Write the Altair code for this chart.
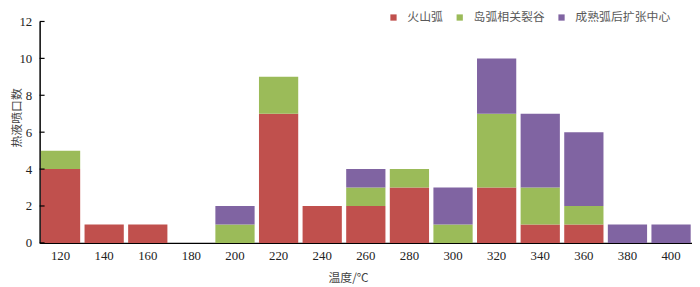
import altair as alt
import pandas as pd

temps = ["120", "140", "160", "180", "200", "220", "240", "260", "280", "300",
         "320", "340", "360", "380", "400"]
types = ["火山弧", "岛弧相关裂谷", "成熟弧后扩张中心"]
volcanic_arc = [4, 1, 1, 0, 0, 7, 2, 2, 3, 0, 3, 1, 1, 0, 0]
arc_rift = [1, 0, 0, 0, 1, 2, 0, 1, 1, 1, 4, 2, 1, 0, 0]
backarc = [0, 0, 0, 0, 1, 0, 0, 1, 0, 2, 3, 4, 4, 1, 1]
colors = ["#C0504D", "#9BBB59", "#8064A2"]
y_ticks = [0, 2, 4, 6, 8, 10, 12]

rows = []
for i, t in enumerate(temps):
    for k, series in enumerate([volcanic_arc, arc_rift, backarc]):
        rows.append({"温度": t, "类型": types[k], "值": series[i], "idx": k})
df = pd.DataFrame(rows)
ticks_df = pd.DataFrame({"t": y_ticks})

serif = "Liberation Serif, Noto Sans CJK SC"

y_axis = alt.Axis(title="热液喷口数", values=y_ticks, tickSize=0, labelPadding=8,
                  labelOverlap=False, labelFlush=False, grid=False,
                  labelFont=serif, labelFontSize=13,
                  labelColor="#222222", domainColor="#000000", domainWidth=1.5,
                  titleFont="Noto Sans CJK SC", titleFontSize=12,
                  titleFontWeight="normal", titleColor="#444444",
                  titleX=-23, titleY=97, titleAlign="center",
                  titleBaseline="middle")

bars = alt.Chart(df).mark_bar().encode(
    x=alt.X("温度:O", sort=temps,
            scale=alt.Scale(paddingInner=0.1, paddingOuter=0.03),
            axis=alt.Axis(title="温度/℃", labelAngle=0, tickSize=0, labelPadding=7,
                          labelFont=serif, labelFontSize=13, labelColor="#222222",
                          domainColor="#000000", domainWidth=1.5,
                          titleFont="Noto Sans CJK SC", titleFontSize=12,
                          titleFontWeight="normal", titleColor="#444444",
                          titleX=312, titleY=35, titleBaseline="middle")),
    y=alt.Y("sum(值):Q", scale=alt.Scale(domain=[0, 12]), axis=y_axis),
    color=alt.Color("类型:N",
                    scale=alt.Scale(domain=types, range=colors),
                    legend=alt.Legend(title=None, orient="none", legendX=352, legendY=-10,
                                      direction="horizontal", symbolType="square",
                                      symbolSize=40, symbolStrokeWidth=0,
                                      labelFont="Noto Sans CJK SC", labelFontSize=12,
                                      labelColor="#595959", labelOffset=8,
                                      columnPadding=10)),
    order=alt.Order("idx:Q"),
)

tick_marks = alt.Chart(ticks_df).mark_rule(color="#000000", strokeWidth=1.2).encode(
    y=alt.Y("t:Q", scale=alt.Scale(domain=[0, 12]), axis=y_axis),
    x=alt.value(0),
    x2=alt.value(5),
)

chart = alt.layer(bars, tick_marks).properties(
    width=660, height=224,
    autosize=alt.AutoSizeParams(type="none"),
    padding={"left": 32, "top": 12, "right": 0, "bottom": 43},
).configure_view(stroke=None)

chart.save("out.html", embed_options={"renderer": "svg", "actions": False})
